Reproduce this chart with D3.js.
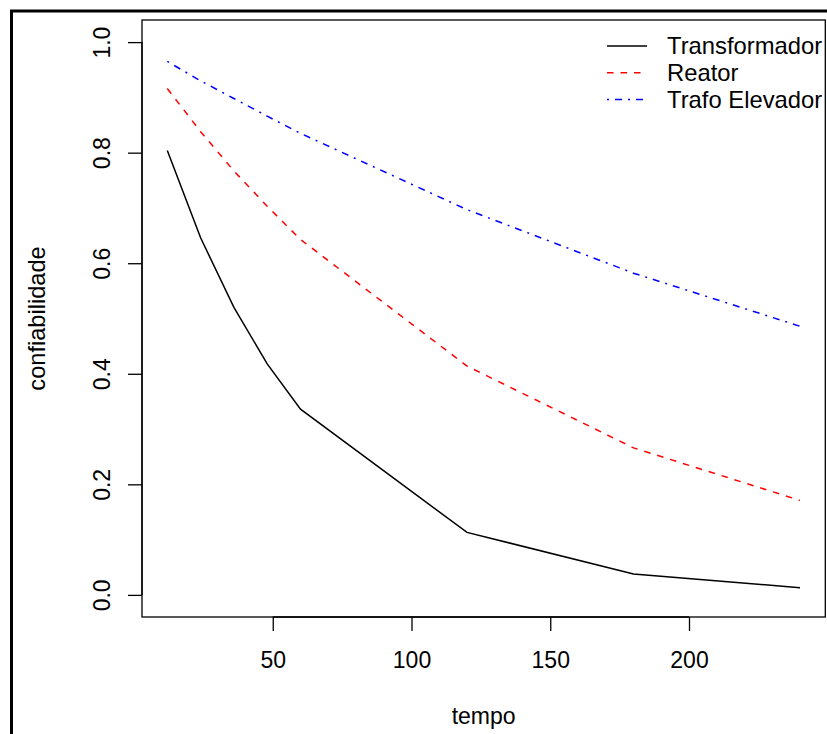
<!DOCTYPE html>
<html lang="pt">
<head>
  <meta charset="utf-8">
  <title>confiabilidade x tempo</title>
  <style>
    body { margin: 0; background: #fff; }
    text { font-family: "Liberation Sans", Arial, Helvetica, sans-serif; fill: #000; }
  </style>
</head>
<body>
  <script src="https://cdn.jsdelivr.net/npm/d3@7/dist/d3.min.js"></script>
  <script>
    var width = 827;
    var height = 734;
    var font_size = 23;

    // data
    var tempo = [12, 24, 36, 48, 60, 120, 180, 240];
    var transformador = [0.804, 0.646, 0.520, 0.418, 0.336, 0.113, 0.038, 0.013];
    var reator = [0.916, 0.838, 0.767, 0.703, 0.643, 0.414, 0.266, 0.171];
    var trafo_elevador = [0.965, 0.930, 0.898, 0.866, 0.835, 0.697, 0.582, 0.486];
    var series_names = ["Transformador", "Reator", "Trafo Elevador"];
    var series_colors = ["#000000", "#ff0000", "#0000ff"];
    var series_dash = ["none", "6.5,7", "2,6,7,6"];
    var x_ticks = [50, 100, 150, 200];
    var y_ticks = [0, 0.2, 0.4, 0.6, 0.8, 1.0];

    var series = [transformador, reator, trafo_elevador];

    var plot = { left: 142, right: 825.3, top: 20, bottom: 617 };

    var svg = d3.select("body").append("svg")
                .attr("width", width)
                .attr("height", height);

    // outer frame
    svg.append("rect")
       .attr("x", 11.5).attr("y", 11)
       .attr("width", 1000).attr("height", 1000)
       .attr("fill", "none")
       .attr("stroke", "#000")
       .attr("stroke-width", 3);

    var x = d3.scaleLinear().domain([2.88, 249.12]).range([plot.left, plot.right]);
    var y = d3.scaleLinear().domain([-0.04, 1.04]).range([plot.bottom, plot.top]);

    // x axis
    var xAxis = svg.append("g")
                   .attr("transform", "translate(0," + plot.bottom + ")")
                   .call(d3.axisBottom(x).tickValues(x_ticks).tickSize(14).tickPadding(0).tickFormat(d3.format("d")));
    xAxis.select(".domain")
         .attr("d", "M" + x(x_ticks[0]) + ",0H" + x(x_ticks[x_ticks.length - 1]));
    xAxis.selectAll("line").attr("stroke-width", 1.3);
    xAxis.selectAll("text")
         .attr("y", 51).attr("dy", null)
         .style("font-size", font_size + "px")
         .style("font-family", "'Liberation Sans', Arial, sans-serif");

    // y axis
    var yAxis = svg.append("g")
                   .attr("transform", "translate(" + plot.left + ",0)")
                   .call(d3.axisLeft(y).tickValues(y_ticks).tickSize(14).tickFormat(d3.format(".1f")));
    yAxis.select(".domain")
         .attr("d", "M0," + y(y_ticks[0]) + "V" + y(y_ticks[y_ticks.length - 1]));
    yAxis.selectAll("line").attr("stroke-width", 1.3);
    yAxis.selectAll("text")
         .attr("x", null).attr("dy", null)
         .attr("text-anchor", "middle")
         .attr("transform", "translate(-32,0) rotate(-90)")
         .style("font-size", font_size + "px")
         .style("font-family", "'Liberation Sans', Arial, sans-serif");
    svg.selectAll(".domain").attr("stroke-width", 1.3);

    // plot box
    svg.append("rect")
       .attr("x", plot.left).attr("y", plot.top)
       .attr("width", plot.right - plot.left)
       .attr("height", plot.bottom - plot.top)
       .attr("fill", "none")
       .attr("stroke", "#000")
       .attr("stroke-width", 1.3);

    // series
    var line = d3.line()
                 .x(function(d, i){ return x(tempo[i]); })
                 .y(function(d){ return y(d); });

    for (var i = 0; i < series.length; i++) {
      svg.append("path")
         .datum(series[i])
         .attr("d", line)
         .attr("fill", "none")
         .attr("stroke", series_colors[i])
         .attr("stroke-width", 1.5)
         .attr("stroke-dasharray", series_dash[i]);
    }

    // axis titles
    svg.append("text")
       .text("tempo")
       .attr("x", (plot.left + plot.right) / 2)
       .attr("y", 724)
       .attr("text-anchor", "middle")
       .style("font-size", font_size + "px");

    svg.append("text")
       .text("confiabilidade")
       .attr("transform", "translate(45," + (plot.top + plot.bottom) / 2 + ") rotate(-90)")
       .attr("text-anchor", "middle")
       .style("font-size", "23.6px");

    // legend
    var legend = svg.append("g");
    for (var j = 0; j < series_names.length; j++) {
      var ly = 46 + j * 26.8;
      legend.append("line")
            .attr("x1", 607).attr("x2", 647)
            .attr("y1", ly).attr("y2", ly)
            .attr("stroke", series_colors[j])
            .attr("stroke-width", 1.5)
            .attr("stroke-dasharray", series_dash[j]);
      legend.append("text")
            .text(series_names[j])
            .attr("x", 667)
            .attr("y", ly + 8)
            .style("font-size", "23.8px");
    }
  </script>
</body>
</html>
